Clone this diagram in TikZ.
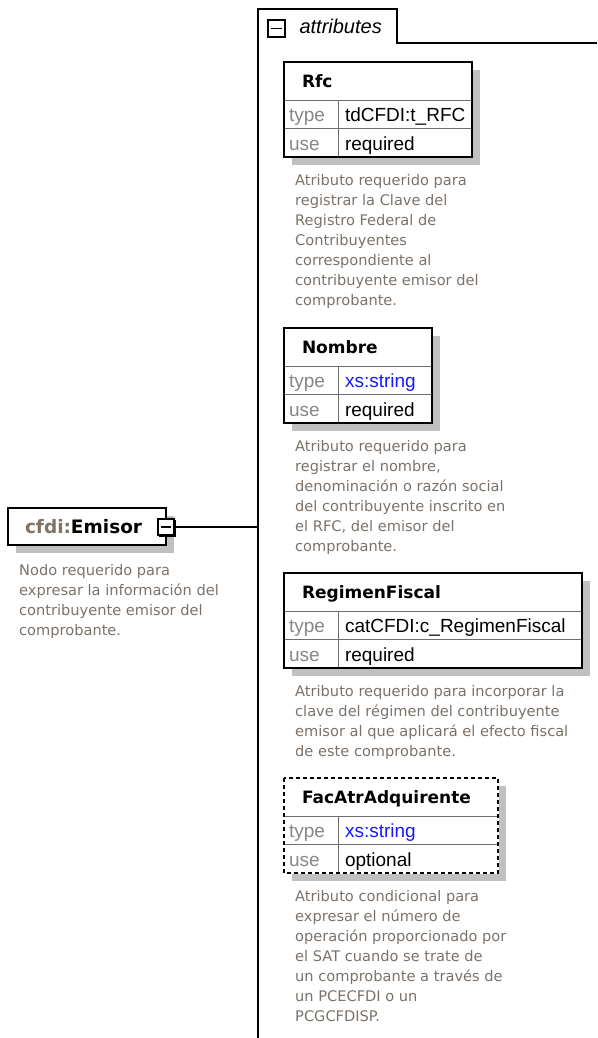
\documentclass[tikz,border=0pt]{standalone}
\usepackage{fontspec}
\setmainfont{Liberation Sans}
\newfontfamily\descfont{DejaVu Sans}
\usepackage{tikz}
\usetikzlibrary{positioning,shadows}

\definecolor{descgray}{RGB}{122,114,106}
\definecolor{keygray}{RGB}{135,135,135}
\definecolor{shadegray}{RGB}{192,192,192}
\definecolor{sepgray}{RGB}{110,110,110}
\definecolor{typeblue}{RGB}{25,25,255}
\definecolor{prefixgray}{RGB}{128,115,100}

\hyphenpenalty=10000
\exhyphenpenalty=10000

\begin{document}
\begin{tikzpicture}[
    x=1pt, y=-1pt,
    outline/.style={draw, line width=1.6pt},
    boxshadow/.style={fill=shadegray},
    emisorbox/.style={rectangle, draw, line width=1.6pt, fill=white, anchor=north west, outer sep=0pt, inner xsep=17pt, inner ysep=0pt, minimum height=37pt, text width=124pt, text height=13pt, text depth=0pt, align=left, font=\descfont\bfseries\fontsize{18.5}{22}\selectfont},
    attrhead/.style={rectangle, draw=sepgray, line width=0.9pt, fill=white, anchor=north west, outer sep=0pt, inner xsep=18pt, inner ysep=0pt, minimum height=38pt, text height=13pt, text depth=0pt, align=left, font=\descfont\bfseries\fontsize{17}{20}\selectfont},
    attrkey/.style={rectangle, draw=sepgray, line width=0.9pt, fill=white, anchor=north west, outer sep=0pt, inner xsep=5pt, inner ysep=0pt, minimum height=28.5pt, text width=44pt, text height=15pt, text depth=0pt, align=left, text=keygray, font=\fontsize{19}{22}\selectfont},
    attrval/.style={attrkey, inner xsep=7pt, text=black},
    descr/.style={anchor=north west, inner sep=0pt, align=left, text=descgray, font=\descfont\fontsize{14.6}{20}\selectfont},
    toggle/.style={rectangle, draw, line width=1.7pt, fill=white, minimum size=16.5pt, inner sep=0pt,
        drop shadow={shadow xshift=1.6pt, shadow yshift=-1.6pt, fill=black, opacity=1},
        path picture={\draw[line width=1.8pt] ([xshift=3pt]path picture bounding box.west) -- ([xshift=-3pt]path picture bounding box.east);}}
    ]

    \useasboundingbox (0,0) rectangle (597,1038);

    % attributes frame
    \draw[outline] (258,1038) -- (258,9) -- (397,9) -- (397,43) -- (597,43);
    \node[toggle] (attrtoggle) at (276.5,28.5) {};
    \node[anchor=base west, font=\itshape\fontsize{20}{24}\selectfont] (attrlabel) at (296,34) {attributes};
    \coordinate (bus) at (258,527);

    % emisor
    \fill[boxshadow] (16,516) rectangle (174,553);
    \node[emisorbox] (emisor) at (8,508) {\textcolor{prefixgray}{cfdi:}Emisor};
    \node[toggle] (emisortoggle) at (166,527) {};
    \draw[outline] (emisortoggle) -- (bus);
    \node[descr, below right=19pt and 11pt of emisor.south west] (emisordesc) {Nodo requerido para\\expresar la información del\\contribuyente emisor del\\comprobante.};

    % Rfc
    \fill[boxshadow] (292,70) rectangle (480,165);
    \node[attrhead, text width=152pt] (rfc) at (284,62) {Rfc};
    \node[attrkey] (rfctype) at (rfc.south west) {type};
    \node[attrval, text width=120pt] (rfctypeval) at (rfctype.north east) {tdCFDI:t\_RFC};
    \node[attrkey] (rfcuse) at (rfctype.south west) {use};
    \node[attrval, text width=120pt] (rfcuseval) at (rfcuse.north east) {required};
    \draw[outline] (rfc.north west) rectangle (rfcuseval.south east);
    \node[descr, below right=17pt and 11pt of rfcuse.south west] (rfcdesc) {Atributo requerido para\\registrar la Clave del\\Registro Federal de\\Contribuyentes\\correspondiente al\\contribuyente emisor del\\comprobante.};

    % Nombre
    \fill[boxshadow] (292,336) rectangle (440,431);
    \node[attrhead, text width=112pt] (nombre) at (284,328) {Nombre};
    \node[attrkey] (nombretype) at (nombre.south west) {type};
    \node[attrval, text width=80pt, text=typeblue] (nombretypeval) at (nombretype.north east) {xs:string};
    \node[attrkey] (nombreuse) at (nombretype.south west) {use};
    \node[attrval, text width=80pt] (nombreuseval) at (nombreuse.north east) {required};
    \draw[outline] (nombre.north west) rectangle (nombreuseval.south east);
    \node[descr, below right=17pt and 11pt of nombreuse.south west] (nombredesc) {Atributo requerido para\\registrar el nombre,\\denominación o razón social\\del contribuyente inscrito en\\el RFC, del emisor del\\comprobante.};

    % RegimenFiscal
    \fill[boxshadow] (292,581) rectangle (590,676);
    \node[attrhead, text width=262pt] (regimen) at (284,573) {RegimenFiscal};
    \node[attrkey] (regimentype) at (regimen.south west) {type};
    \node[attrval, text width=230pt] (regimentypeval) at (regimentype.north east) {catCFDI:c\_RegimenFiscal};
    \node[attrkey] (regimenuse) at (regimentype.south west) {use};
    \node[attrval, text width=230pt] (regimenuseval) at (regimenuse.north east) {required};
    \draw[outline] (regimen.north west) rectangle (regimenuseval.south east);
    \node[descr, below right=17pt and 11pt of regimenuse.south west] (regimendesc) {Atributo requerido para incorporar la\\clave del régimen del contribuyente\\emisor al que aplicará el efecto fiscal\\de este comprobante.};

    % FacAtrAdquirente (optional)
    \fill[boxshadow] (292,786) rectangle (506,881);
    \node[attrhead, text width=178pt] (facatr) at (284,778) {FacAtrAdquirente};
    \node[attrkey] (facatrtype) at (facatr.south west) {type};
    \node[attrval, text width=146pt, text=typeblue] (facatrtypeval) at (facatrtype.north east) {xs:string};
    \node[attrkey] (facatruse) at (facatrtype.south west) {use};
    \node[attrval, text width=146pt] (facatruseval) at (facatruse.north east) {optional};
    \draw[white, line width=2pt] (facatr.north west) rectangle (facatruseval.south east);
    \draw[outline, dash pattern=on 4pt off 3pt] (facatr.north west) rectangle (facatruseval.south east);
    \node[descr, below right=17pt and 11pt of facatruse.south west] (facatrdesc) {Atributo condicional para\\expresar el número de\\operación proporcionado por\\el SAT cuando se trate de\\un comprobante a través de\\un PCECFDI o un\\PCGCFDISP.};
\end{tikzpicture}
\end{document}
